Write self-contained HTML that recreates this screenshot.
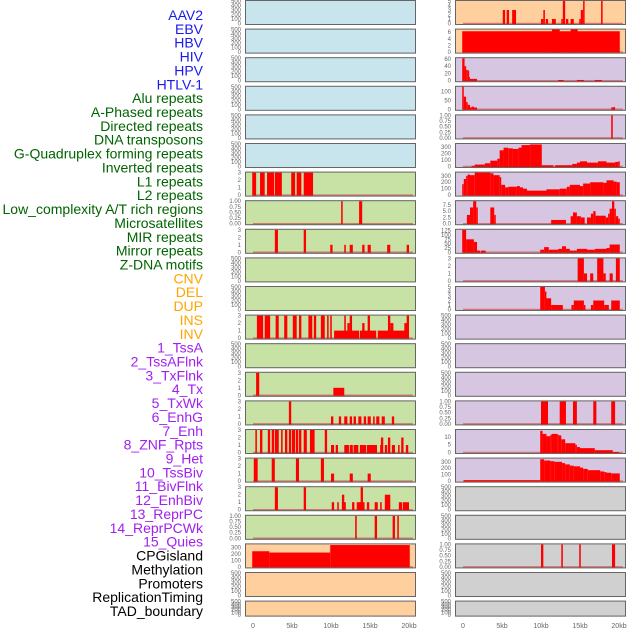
<!DOCTYPE html>
<html><head><meta charset="utf-8"><style>
html,body{margin:0;padding:0;background:#fff;}
svg{display:block;font-family:"Liberation Sans",sans-serif;}
</style></head><body>
<svg id="chart" width="630" height="630" viewBox="0 0 630 630" xmlns="http://www.w3.org/2000/svg"></svg>
<script>
// ---- labels ----
const labelNames = ["AAV2","EBV","HBV","HIV","HPV","HTLV-1","Alu repeats","A-Phased repeats","Directed repeats","DNA transposons","G-Quadruplex forming repeats","Inverted repeats","L1 repeats","L2 repeats","Low_complexity A/T rich regions","Microsatellites","MIR repeats","Mirror repeats","Z-DNA motifs","CNV","DEL","DUP","INS","INV","1_TssA","2_TssAFlnk","3_TxFlnk","4_Tx","5_TxWk","6_EnhG","7_Enh","8_ZNF_Rpts","9_Het","10_TssBiv","11_BivFlnk","12_EnhBiv","13_ReprPC","14_ReprPCWk","15_Quies","CPGisland","Methylation","Promoters","ReplicationTiming","TAD_boundary"];
const labelGroups = [6,13,5,15,5];
const xTickValues = [0,5,10,15,20];
const xTickLabels = ["0","5kb","10kb","15kb","20kb"];
const ticks3 = [0,1,2,3];
const ticks1 = ["0.00","0.25","0.50","0.75","1.00"];
const ticksEmpty = [0,100,200,300,400,500];
const ticks300 = [0,100,200,300];
// ---- segments [startKb, endKb, value] ----
const segL7 = [[-0.1,0.4,3],[0.9,1.5,3],[1.8,2.7,3],[2.8,3.7,3],[4.9,5.4,3],[5.6,6.2,3],[6.5,7.7,3]];
const segL8 = [[11.3,11.5,1],[13.6,14.0,1]];
const segL9 = [[2.8,3.2,3],[6.5,6.8,3],[9.9,10.2,1],[11.7,11.9,1],[12.4,12.8,1],[14.0,14.3,1],[14.7,15.1,1],[17.2,17.6,1],[19.7,20.0,1]];
const segL12 = [[10.4,13.6,1],[13.7,15.8,1],[16.0,20.0,1],[12.1,12.4,2],[14.0,14.3,2],[17.6,18.0,2],[19.4,20.0,2],[0.5,1.3,3],[1.5,2.2,3],[2.9,3.3,3],[4.0,4.4,3],[5.1,5.6,3],[5.9,6.2,3],[7.1,7.6,3],[7.8,8.1,3],[8.7,9.2,3],[9.5,9.7,3],[9.9,10.1,3],[11.7,11.9,3],[12.4,12.7,3],[14.7,15.0,3],[17.3,17.6,3],[19.7,20.0,3]];
const segL14 = [[0.4,0.8,3],[10.3,11.7,1]];
const segL15 = [[4.6,4.9,3],[10.0,10.3,1],[11.0,11.3,1],[11.7,12.1,1],[12.4,12.7,1],[12.9,13.2,1],[13.5,13.9,1],[14.2,14.5,1],[14.7,15.1,1],[15.4,15.6,1],[15.8,16.2,1],[16.5,16.9,1],[17.8,18.1,1]];
const segL16 = [[0.3,0.5,3],[0.9,1.2,3],[1.9,2.2,3],[2.4,2.7,3],[2.8,3.3,3],[3.6,3.8,3],[4.1,4.4,3],[4.6,4.9,3],[5.0,5.4,3],[5.5,5.8,3],[5.9,6.2,3],[6.5,6.9,3],[7.3,7.9,3],[9.2,9.5,3],[10.0,10.4,1],[10.6,10.9,1],[11.7,12.3,1],[12.4,12.8,1],[12.9,13.5,1],[13.7,14.5,1],[14.6,15.9,1],[16.3,16.5,1],[16.9,17.2,1],[17.8,18.2,1],[18.6,18.8,1],[19.6,19.9,1],[16.4,16.7,2],[17.3,17.6,2],[19.0,19.3,2]];
const segL17 = [[0.1,0.6,3],[2.4,2.8,3],[5.5,5.9,3],[8.7,9.1,3],[10.0,10.4,1],[12.4,12.8,1],[14.7,15.1,1]];
const segL18 = [[2.8,3.2,3],[6.5,6.8,3],[13.8,14.1,3],[10.1,10.4,1],[10.8,11.0,1],[11.4,11.9,1],[11.4,11.7,2],[12.7,13.0,1],[13.3,14.3,1],[14.6,14.9,1],[15.6,16.0,1],[16.3,16.5,1],[16.9,17.6,2],[18.7,19.1,1],[19.2,20.0,1]];
const segL19 = [[13.1,13.3,1],[15.6,15.9,1],[17.9,18.2,1],[18.5,18.7,1]];
const segL20 = [[-0.1,2.1,240],[2.1,9.9,220],[9.9,20.1,335]];
const segR1 = [[5.1,5.4,3],[5.6,5.9,3],[6.3,6.8,3],[10.0,10.3,1],[10.3,10.5,3],[10.6,10.9,1],[11.4,11.9,1],[12.6,12.8,1],[12.8,13.1,5],[13.2,13.5,1],[13.8,14.2,1],[14.9,15.1,1],[15.1,15.4,3],[15.4,15.5,5],[17.7,17.9,5]];
const segR2 = [[-0.1,20.1,6.3],[11.4,12.4,7],[13.8,14.7,7]];
const segR3 = [[-0.1,0.2,62],[0.2,0.4,40],[0.4,0.6,30],[0.6,0.7,28],[0.7,0.8,10],[0.8,1.8,5],[12.2,12.9,2],[14.6,15.5,2],[16.9,17.8,2]];
const segR4 = [[-0.1,0.1,130],[0.1,0.4,70],[0.4,0.6,40],[0.6,0.9,25],[0.9,1.1,10],[1.1,1.4,15],[1.4,1.8,10],[19.0,19.2,10],[19.2,19.5,12]];
const segR5 = [[19.0,19.2,1]];
const segR6 = [[1.1,1.5,10],[1.5,2.8,30],[2.8,3.5,50],[3.5,4.4,90],[4.4,4.7,120],[4.7,5.2,250],[5.2,5.8,290],[5.8,6.4,280],[6.4,7.1,270],[7.1,7.5,290],[7.5,8.6,330],[8.6,10.1,340],[10.1,11.6,20],[11.8,14.0,20],[14.0,14.6,40],[14.6,15.0,60],[15.0,15.9,80],[15.9,17.3,60],[17.3,18.4,80],[18.4,19.5,60],[19.5,19.9,70],[19.9,20.1,80]];
const segR7 = [[-0.1,0.1,170],[0.1,0.4,250],[0.4,0.6,300],[0.6,0.9,320],[0.9,1.5,310],[1.5,3.5,350],[3.5,3.9,340],[3.9,4.7,310],[4.7,4.9,280],[4.9,5.4,160],[5.4,5.8,120],[5.8,6.9,130],[6.9,7.3,140],[7.3,7.7,120],[7.7,8.2,100],[8.2,10.7,70],[10.7,12.4,90],[12.4,13.3,100],[13.3,13.7,130],[13.7,15.0,160],[15.0,15.4,140],[15.4,16.3,180],[16.3,18.0,200],[18.0,18.4,190],[18.4,19.3,230],[19.3,19.7,210],[19.7,20.1,200]];
const segR8 = [[0.5,0.9,3.5],[0.9,1.3,6.5],[1.3,1.7,9],[1.7,1.9,6.5],[3.5,4.0,6.5],[4.0,4.2,3.5],[11.3,13.2,1.5],[13.8,14.1,3],[14.1,14.6,4.5],[14.6,15.1,3],[15.1,15.6,2.5],[15.9,16.4,2.5],[16.4,16.7,4],[16.7,17.0,5],[17.0,18.3,3.2],[18.3,18.6,2.5],[18.6,18.8,4],[18.8,19.1,6],[19.1,19.4,9],[19.4,19.6,6],[19.6,19.9,3],[19.9,20.1,2]];
const segR9 = [[-0.1,0.4,130],[0.4,1.4,75],[1.4,1.8,60],[1.8,2.2,10],[2.3,2.9,10],[9.9,10.4,15],[10.4,11.0,30],[11.0,12.2,15],[12.2,12.7,20],[12.7,13.2,35],[13.2,13.7,20],[13.7,14.6,10],[14.6,15.9,20],[15.9,16.9,15],[16.9,18.4,20],[18.4,18.8,25],[18.8,20.1,45]];
const segR10 = [[14.7,15.5,3],[15.5,15.9,1],[16.3,16.7,1],[17.2,18.0,3],[18.0,18.3,1],[18.8,19.2,1],[19.6,20.1,3]];
const segR11 = [[9.9,10.5,5],[10.5,10.6,4],[10.6,11.3,2.5],[11.3,12.8,1],[13.9,14.2,1],[14.2,15.5,2],[15.5,15.7,1],[16.4,16.7,1],[16.7,18.1,2],[18.1,18.7,1],[19.0,20.1,2]];
const segR15 = [[10.0,10.9,1],[12.4,13.2,1],[14.1,14.6,1],[16.7,17.1,1],[19.0,19.5,1]];
const segR16 = [[9.9,10.2,14],[10.2,10.7,12],[10.7,11.2,10.5],[11.2,11.4,11.5],[11.4,12.1,12],[12.1,12.3,11.5],[12.3,12.6,11],[12.6,13.1,8.5],[13.1,14.4,6],[14.4,14.6,5],[14.6,15.0,3.5],[15.0,16.9,2.8],[16.9,19.2,1.5],[19.2,20.0,0.3]];
const segR17 = [[0.1,9.9,15],[9.9,10.4,340],[10.4,11.2,320],[11.2,11.7,310],[11.7,12.7,300],[12.7,13.1,280],[13.1,13.7,260],[13.7,14.2,240],[14.2,15.0,230],[15.0,15.4,210],[15.4,16.0,190],[16.0,17.6,170],[17.6,18.1,150],[18.1,18.4,140],[18.4,19.0,130],[19.0,20.1,120]];
const segR20 = [[10.0,10.3,1],[12.6,12.8,1],[14.9,15.1,1],[19.1,19.5,1]];

const BLUE="#c8e4ec",GREEN="#c8e2a6",ORANGE="#ffcf9e",PURPLE="#d6c6e2",GRAY="#d0d0d0";
// tracks: [col,row,bg,ymax,ticks,segs]
const tracks = [];
for(let r=0;r<6;r++) tracks.push([0,r,BLUE,500,ticksEmpty,null]);
tracks.push([0,6,GREEN,3,ticks3,segL7]);
tracks.push([0,7,GREEN,1,ticks1,segL8]);
tracks.push([0,8,GREEN,3,ticks3,segL9]);
tracks.push([0,9,GREEN,500,ticksEmpty,null]);
tracks.push([0,10,GREEN,500,ticksEmpty,null]);
tracks.push([0,11,GREEN,3,ticks3,segL12]);
tracks.push([0,12,GREEN,500,ticksEmpty,null]);
tracks.push([0,13,GREEN,3,ticks3,segL14]);
tracks.push([0,14,GREEN,3,ticks3,segL15]);
tracks.push([0,15,GREEN,3,ticks3,segL16]);
tracks.push([0,16,GREEN,3,ticks3,segL17]);
tracks.push([0,17,GREEN,3,ticks3,segL18]);
tracks.push([0,18,GREEN,1,ticks1,segL19]);
tracks.push([0,19,ORANGE,345,ticks300,segL20]);
tracks.push([0,20,ORANGE,500,ticksEmpty,null]);
tracks.push([0,21,ORANGE,500,ticksEmpty,null]);
tracks.push([1,0,ORANGE,5,[0,1,2,3,4,5],segR1]);
tracks.push([1,1,ORANGE,6.8,[0,2,4,6],segR2]);
tracks.push([1,2,PURPLE,62,[0,20,40,60],segR3]);
tracks.push([1,3,PURPLE,125,[0,50,100],segR4]);
tracks.push([1,4,PURPLE,1,ticks1,segR5]);
tracks.push([1,5,PURPLE,347,ticks300,segR6]);
tracks.push([1,6,PURPLE,350,ticks300,segR7]);
tracks.push([1,7,PURPLE,9,["0.0","2.5","5.0","7.5"],segR8]);
tracks.push([1,8,PURPLE,130,[0,25,50,75,100,125],segR9]);
tracks.push([1,9,PURPLE,3,ticks3,segR10]);
tracks.push([1,10,PURPLE,5,[0,1,2,3,4,5],segR11]);
tracks.push([1,11,PURPLE,500,ticksEmpty,null]);
tracks.push([1,12,PURPLE,500,ticksEmpty,null]);
tracks.push([1,13,PURPLE,500,ticksEmpty,null]);
tracks.push([1,14,PURPLE,1,ticks1,segR15]);
tracks.push([1,15,PURPLE,14.5,[0,5,10],segR16]);
tracks.push([1,16,PURPLE,350,ticks300,segR17]);
tracks.push([1,17,GRAY,500,ticksEmpty,null]);
tracks.push([1,18,GRAY,500,ticksEmpty,null]);
tracks.push([1,19,GRAY,1,ticks1,segR20]);
tracks.push([1,20,GRAY,500,ticksEmpty,null]);
tracks.push([1,21,GRAY,500,ticksEmpty,null]);

const NS="http://www.w3.org/2000/svg";
const svg=document.getElementById('chart');
function mk(tag,attrs,parent){const e=document.createElementNS(NS,tag);for(const k in attrs)e.setAttribute(k,attrs[k]);(parent||svg).appendChild(e);return e;}
const colLeft=[245,455], panelW=171, pitch=28.6;
function xScale(col,kb){return colLeft[col]+8+kb*7.8;}
function rowTop(r){return r*pitch;}
function rowH(r){return r===21?16:25;}

// labels
const groupColors=["#1a1aee","#006400","#ffa500","#a020f0","#000000"];
let li=0;
labelGroups.forEach((n,g)=>{for(let k=0;k<n;k++){
  const t=mk('text',{x:203,y:15+li*13.86+5,'text-anchor':'end','font-size':'14',fill:groupColors[g]});
  
  
  t.textContent=labelNames[li]; li++;}});

tracks.forEach((tr,i)=>{
  const [col,row,bg,ymax,ticks,segs]=tr;
  const top=rowTop(row), h=rowH(row), x0=colLeft[col];
  const g=mk('g',{});
  
  
  const y0=top+h-1.5, y1=top+1;
  const yS=v=>y0-(v/ymax)*(y0-y1);
  const bgR=mk('rect',{x:x0,y:top,width:panelW,height:h,fill:bg},g);
  
  
  if(segs){
    const bl=mk('line',{x1:xScale(col,0),x2:xScale(col,20.5),y1:y0,y2:y0,stroke:'#d06060','stroke-width':1.5,opacity:0.8},g);
    
    
    segs.forEach(s=>{
      const xa=xScale(col,s[0]), xb=xScale(col,s[1]);
      const yv=Math.max(top+0.5,yS(s[2]));
      const b=mk('rect',{x:xa,y:yv,width:Math.max(1.5,xb-xa),height:Math.max(0,y0+0.5-yv),fill:'#ff0000'},g);
      
      
    });
  }
  const br=mk('rect',{x:x0+0.5,y:top+0.5,width:panelW-1,height:h-1,fill:'none',stroke:'#666','stroke-width':1},g);
  
  
  ticks.forEach(tv=>{
    const v=parseFloat(tv); const yy=yS(v);
    if(yy<top-3) return;
    const t=mk('text',{x:x0-4,y:yy+2,'text-anchor':'end','font-size':'6',fill:'#666'},g);
    
    
    t.textContent=String(tv);
  });
});
[0,1].forEach(col=>{
  xTickValues.forEach((v,k)=>{
    const t=mk('text',{x:xScale(col,v),y:628,'text-anchor':'middle','font-size':'7',fill:'#666'});
    
    
    t.textContent=xTickLabels[k];
  });
});
</script>
</body></html>
